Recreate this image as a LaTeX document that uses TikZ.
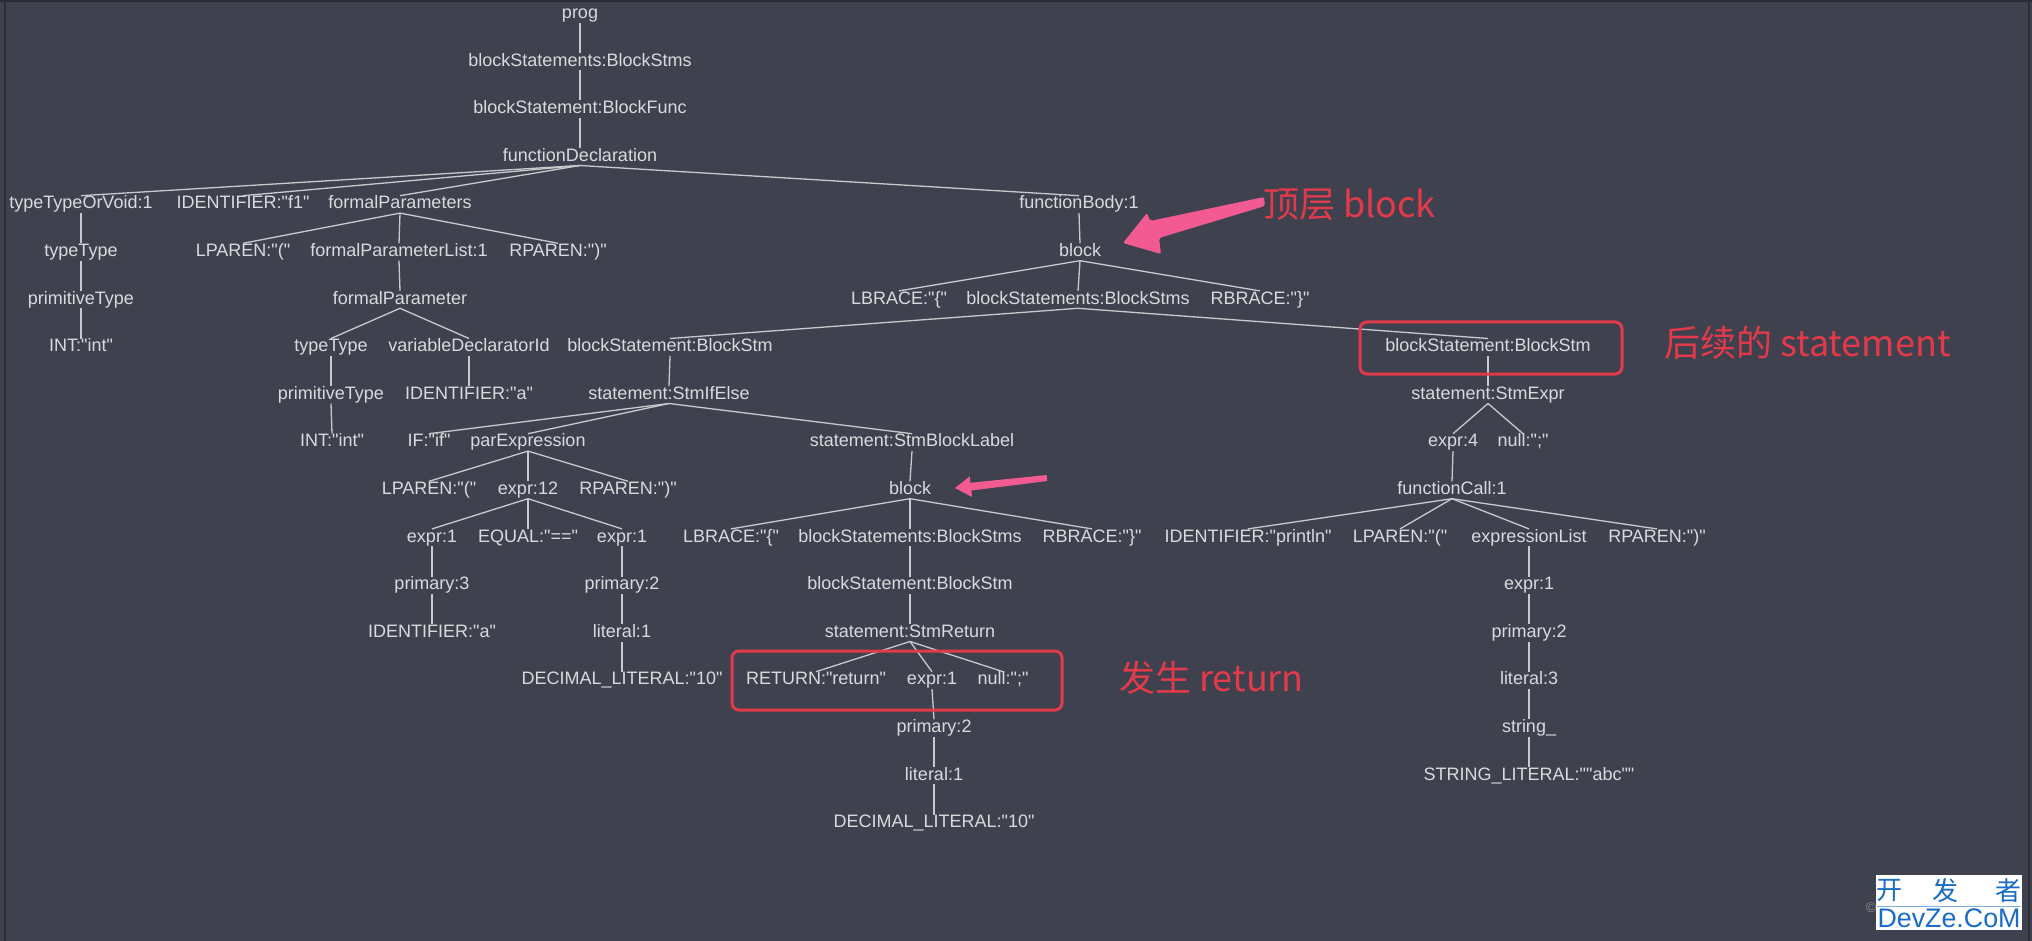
\documentclass[tikz,border=0pt]{standalone}
\usepackage{fontspec}
\setmainfont{Liberation Sans}[Ligatures=TeXOff]
\newfontfamily\cjk{Noto Sans CJK SC}
\definecolor{bg}{HTML}{3F414E}
\definecolor{frame}{HTML}{2B2D36}
\definecolor{fg}{HTML}{DADADD}
\definecolor{edgec}{HTML}{C9CACE}
\definecolor{redbox}{HTML}{E23A4A}
\definecolor{pinkarrow}{HTML}{F25A92}
\definecolor{wmblue}{HTML}{1A6CC4}
\def\ry#1{14+47.6*#1}
\tikzset{
  t/.style={text=fg, font=\fontsize{18}{20}\selectfont, inner xsep=1pt, inner ysep=0pt, text height=13pt, text depth=4pt},
  e/.style={draw=edgec, line width=1.3pt},
  note/.style={text=redbox, font=\cjk\fontsize{36}{40}\selectfont, inner sep=0pt, anchor=west},
  hl/.style={draw=redbox, line width=3pt, rounded corners=7pt},
  parrow/.style={fill=pinkarrow, draw=none},
}
\begin{document}
\begin{tikzpicture}[x=1pt, y=-1pt]
\useasboundingbox (0,0) rectangle (2032,941);
\fill[bg] (0,0) rectangle (2032,941);
\fill[frame] (0,0) rectangle (2032,2.5);
\draw[frame, line width=1.5pt] (5,0) -- (5,941);
\draw[frame, line width=1.5pt] (2029,0) -- (2029,941);

% row 0-3
\node[t] (n0) at (580,{\ry{0}}) {prog};
\node[t] (n1) at (580,{\ry{1}}) {blockStatements:BlockStms};
\node[t] (n2) at (580,{\ry{2}}) {blockStatement:BlockFunc};
\node[t] (n3) at (580,{\ry{3}}) {functionDeclaration};
% row 4
\node[t] (n4a) at (81,{\ry{4}}) {typeTypeOrVoid:1};
\node[t] (n4b) at (243,{\ry{4}}) {IDENTIFIER:"f1"};
\node[t] (n4c) at (400,{\ry{4}}) {formalParameters};
\node[t] (n4d) at (1079,{\ry{4}}) {functionBody:1};
% row 5
\node[t] (n5a) at (81,{\ry{5}}) {typeType};
\node[t] (n5b) at (243,{\ry{5}}) {LPAREN:"("};
\node[t] (n5c) at (399,{\ry{5}}) {formalParameterList:1};
\node[t] (n5d) at (558,{\ry{5}}) {RPAREN:")"};
\node[t] (n5e) at (1080,{\ry{5}}) {block};
% row 6
\node[t] (n6a) at (81,{\ry{6}}) {primitiveType};
\node[t] (n6b) at (400,{\ry{6}}) {formalParameter};
\node[t] (n6c) at (899,{\ry{6}}) {LBRACE:"\{"};
\node[t] (n6d) at (1078,{\ry{6}}) {blockStatements:BlockStms};
\node[t] (n6e) at (1260,{\ry{6}}) {RBRACE:"\}"};
% row 7
\node[t] (n7a) at (81,{\ry{7}}) {INT:"int"};
\node[t] (n7b) at (331,{\ry{7}}) {typeType};
\node[t] (n7c) at (469,{\ry{7}}) {variableDeclaratorId};
\node[t] (n7d) at (670,{\ry{7}}) {blockStatement:BlockStm};
\node[t] (n7e) at (1488,{\ry{7}}) {blockStatement:BlockStm};
% row 8
\node[t] (n8a) at (331,{\ry{8}}) {primitiveType};
\node[t] (n8b) at (469,{\ry{8}}) {IDENTIFIER:"a"};
\node[t] (n8c) at (669,{\ry{8}}) {statement:StmIfElse};
\node[t] (n8d) at (1488,{\ry{8}}) {statement:StmExpr};
% row 9
\node[t] (n9a) at (332,{\ry{9}}) {INT:"int"};
\node[t] (n9b) at (429,{\ry{9}}) {IF:"if"};
\node[t] (n9c) at (528,{\ry{9}}) {parExpression};
\node[t] (n9d) at (912,{\ry{9}}) {statement:StmBlockLabel};
\node[t] (n9e) at (1453,{\ry{9}}) {expr:4};
\node[t] (n9f) at (1523,{\ry{9}}) {null:";"};
% row 10
\node[t] (n10a) at (429,{\ry{10}}) {LPAREN:"("};
\node[t] (n10b) at (528,{\ry{10}}) {expr:12};
\node[t] (n10c) at (628,{\ry{10}}) {RPAREN:")"};
\node[t] (n10d) at (910,{\ry{10}}) {block};
\node[t] (n10e) at (1452,{\ry{10}}) {functionCall:1};
% row 11
\node[t] (n11a) at (432,{\ry{11}}) {expr:1};
\node[t] (n11b) at (528,{\ry{11}}) {EQUAL:"=="};
\node[t] (n11c) at (622,{\ry{11}}) {expr:1};
\node[t] (n11d) at (731,{\ry{11}}) {LBRACE:"\{"};
\node[t] (n11e) at (910,{\ry{11}}) {blockStatements:BlockStms};
\node[t] (n11f) at (1092,{\ry{11}}) {RBRACE:"\}"};
\node[t] (n11g) at (1248,{\ry{11}}) {IDENTIFIER:"println"};
\node[t] (n11h) at (1400,{\ry{11}}) {LPAREN:"("};
\node[t] (n11i) at (1529,{\ry{11}}) {expressionList};
\node[t] (n11j) at (1657,{\ry{11}}) {RPAREN:")"};
% row 12
\node[t] (n12a) at (432,{\ry{12}}) {primary:3};
\node[t] (n12b) at (622,{\ry{12}}) {primary:2};
\node[t] (n12c) at (910,{\ry{12}}) {blockStatement:BlockStm};
\node[t] (n12d) at (1529,{\ry{12}}) {expr:1};
% row 13
\node[t] (n13a) at (432,{\ry{13}}) {IDENTIFIER:"a"};
\node[t] (n13b) at (622,{\ry{13}}) {literal:1};
\node[t] (n13c) at (910,{\ry{13}}) {statement:StmReturn};
\node[t] (n13d) at (1529,{\ry{13}}) {primary:2};
% row 14
\node[t] (n14a) at (622,{\ry{14}}) {DECIMAL\_LITERAL:"10"};
\node[t] (n14b) at (816,{\ry{14}}) {RETURN:"return"};
\node[t] (n14c) at (932,{\ry{14}}) {expr:1};
\node[t] (n14d) at (1003,{\ry{14}}) {null:";"};
\node[t] (n14e) at (1529,{\ry{14}}) {literal:3};
% row 15-17
\node[t] (n15a) at (934,{\ry{15}}) {primary:2};
\node[t] (n15b) at (1529,{\ry{15}}) {string\_};
\node[t] (n16a) at (934,{\ry{16}}) {literal:1};
\node[t] (n16b) at (1529,{\ry{16}}) {STRING\_LITERAL:""abc""};
\node[t] (n17a) at (934,{\ry{17}}) {DECIMAL\_LITERAL:"10"};

\foreach \p/\c in {n0/n1, n1/n2, n2/n3, n3/n4a, n3/n4b, n3/n4c, n3/n4d,
  n4a/n5a, n5a/n6a, n6a/n7a, n4c/n5b, n4c/n5c, n4c/n5d, n5c/n6b, n6b/n7b, n6b/n7c,
  n7b/n8a, n8a/n9a, n7c/n8b, n4d/n5e, n5e/n6c, n5e/n6d, n5e/n6e, n6d/n7d, n6d/n7e,
  n7d/n8c, n8c/n9b, n8c/n9c, n8c/n9d, n9c/n10a, n9c/n10b, n9c/n10c,
  n10b/n11a, n10b/n11b, n10b/n11c, n11a/n12a, n12a/n13a, n11c/n12b, n12b/n13b, n13b/n14a,
  n9d/n10d, n10d/n11d, n10d/n11e, n10d/n11f, n11e/n12c, n12c/n13c,
  n13c/n14b, n13c/n14c, n13c/n14d, n14c/n15a, n15a/n16a, n16a/n17a,
  n7e/n8d, n8d/n9e, n8d/n9f, n9e/n10e, n10e/n11g, n10e/n11h, n10e/n11i, n10e/n11j,
  n11i/n12d, n12d/n13d, n13d/n14e, n14e/n15b, n15b/n16b}
  \draw[e] (\p.south) -- (\c.north);

% highlight boxes
\draw[hl] (1360,322) rectangle (1622,374);
\draw[hl] (732,651) rectangle (1062,710);

% annotations
\node[note] (a1) at (1263,205) {顶层 block};
\node[note] (a2) at (1664,343) {后续的 statement};
\node[note] (a3) at (1119,678) {发生 return};

% pink arrows
\fill[parrow, rounded corners=2pt] (1264,197) -- (1150,221) -- (1147,213) -- (1123,243)
  -- (1161,254) -- (1159,238) -- (1265,206) -- cycle;
\fill[parrow] (1047.3,481) -- (971.3,490.5) -- (972.0,497) -- (955,488)
  -- (969.8,476.4) -- (970.5,482.8) -- (1046.7,475) -- cycle;

% watermark
\node[text=black!45, font=\fontsize{14}{14}\selectfont, inner sep=0pt] (copy) at (1871,908) {©};
\node[fill=white, minimum width=146pt, minimum height=55pt, inner sep=0pt] (wm) at (1949,902.5) {};
\node[text=wmblue, font=\cjk\fontsize{26}{26}\selectfont, inner sep=0pt] (wm1) at (1889,891) {开};
\node[text=wmblue, font=\cjk\fontsize{26}{26}\selectfont, inner sep=0pt] (wm2) at (1945,891) {发};
\node[text=wmblue, font=\cjk\fontsize{26}{26}\selectfont, inner sep=0pt] (wm3) at (2008,891) {者};
\draw[wmblue!55, line width=1pt] (1877,906) -- (2021,906);
\node[text=wmblue, font=\fontsize{27}{27}\selectfont, inner sep=0pt] (wm4) at (1949,918) {\resizebox{143pt}{!}{DevZe.CoM}};
\end{tikzpicture}
\end{document}
